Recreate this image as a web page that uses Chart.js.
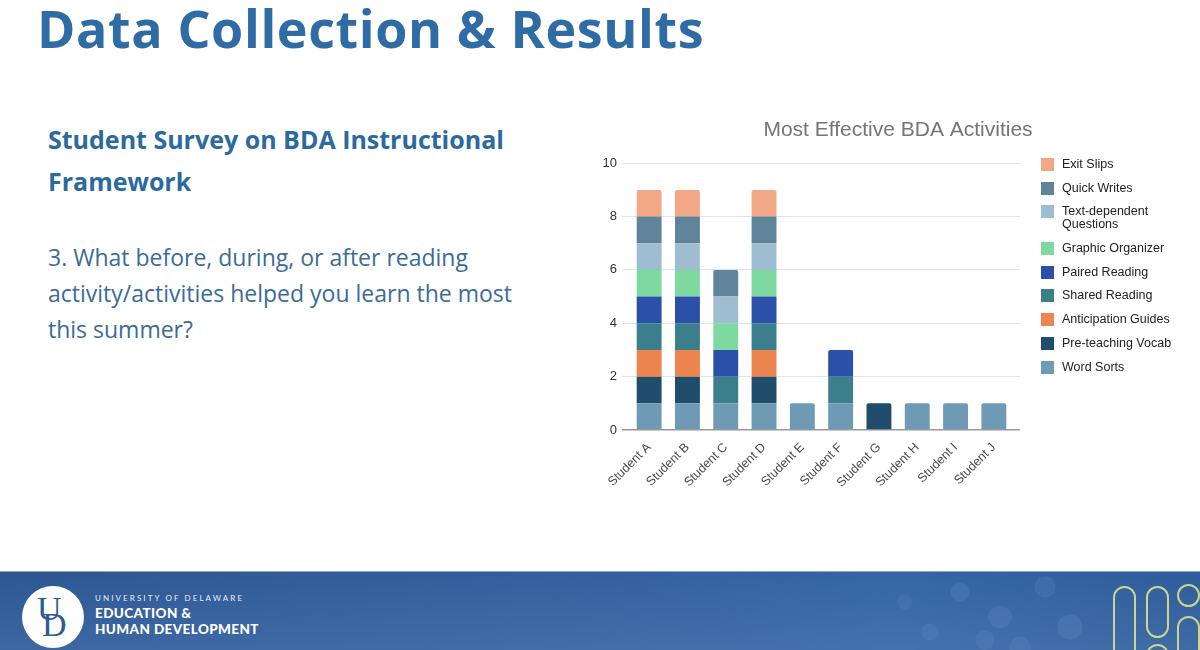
<!DOCTYPE html>
<html lang="en">
<head>
  <meta charset="UTF-8" />
  <title>Data Collection &amp; Results</title>
  <script src="https://cdn.jsdelivr.net/npm/chart.js"></script>
  <style>
    html, body { margin: 0; padding: 0; }
    body { width: 1200px; height: 650px; position: relative; overflow: hidden; background: #fff; font-family: "Open Sans", sans-serif; }
    .slide-title { position: absolute; left: 37px; top: -8px; margin: 0; font-size: 52px; letter-spacing: 0.6px; font-weight: 700; color: #2f6ba5; white-space: nowrap; }
    .subhead { position: absolute; left: 48px; top: 118px; margin: 0; font-size: 25px; font-weight: 700; color: #2b6a9f; line-height: 42px; }
    .question { position: absolute; left: 48px; top: 239px; margin: 0; font-size: 23px; color: #3b6c97; line-height: 36px; }
    #chartBox { position: absolute; left: 590px; top: 110px; width: 610px; height: 410px; }
    #legend { position: absolute; left: 1041px; top: 158px; margin: 0; padding: 0; list-style: none; font-family: "Liberation Sans", Arial, sans-serif; font-size: 12.5px; color: #222; }
    #legend li { display: flex; align-items: flex-start; line-height: 13px; margin-bottom: 10.7px; }
    #legend .sw { width: 13px; height: 13px; flex: none; margin-right: 8px; }
    #legend .tx { max-width: 122px; }
    .footer { position: absolute; left: 0; top: 571px; width: 1200px; height: 79px; border-top: 1px solid #8fa6c4;
      background:
        radial-gradient(circle at 960px 20px, rgba(120,160,215,.18) 0 9px, transparent 10px),
        radial-gradient(circle at 1000px 45px, rgba(120,160,215,.18) 0 11px, transparent 12px),
        radial-gradient(circle at 1045px 15px, rgba(120,160,215,.16) 0 10px, transparent 11px),
        radial-gradient(circle at 1070px 55px, rgba(120,160,215,.18) 0 12px, transparent 13px),
        radial-gradient(circle at 930px 60px, rgba(120,160,215,.15) 0 8px, transparent 9px),
        radial-gradient(circle at 1020px 75px, rgba(120,160,215,.15) 0 10px, transparent 11px),
        radial-gradient(circle at 905px 30px, rgba(120,160,215,.12) 0 7px, transparent 8px),
        radial-gradient(circle at 985px 68px, rgba(120,160,215,.15) 0 9px, transparent 10px),
        linear-gradient(180deg, rgba(255,255,255,0) 0%, rgba(120,160,210,.22) 100%),
        linear-gradient(90deg, #2c5793 0%, #335f9c 45%, #3565a4 75%, #2f5c9a 100%); }
    .logo { position: absolute; left: 22px; top: 14px; width: 62px; height: 62px; border-radius: 50%; background: #fff; }
    .logo span { position: absolute; font-family: "Liberation Serif", "DejaVu Serif", serif; color: #2e5a92; font-size: 34px; line-height: 34px; }
    .logo .u { left: 15px; top: 6px; }
    .logo .d { left: 20px; top: 22px; }
    .uni { position: absolute; left: 95px; top: 21px; font-family: Lato, sans-serif; font-size: 8px; letter-spacing: 2.1px; color: #e6edf7; }
    .ehd { position: absolute; left: 95px; top: 33px; font-family: Lato, sans-serif; font-weight: 900; font-size: 13.5px; line-height: 16px; letter-spacing: .4px; color: #fff; }
    .deco { position: absolute; border: 2px solid #c9d68f; border-radius: 12px; box-sizing: border-box; }
  </style>
</head>
<body>
  <h1 class="slide-title">Data Collection &amp; Results</h1>
  <p class="subhead">Student Survey on BDA Instructional<br>Framework</p>
  <p class="question">3. What before, during, or after reading<br>activity/activities helped you learn the most<br>this summer?</p>

  <div id="chartBox"><canvas id="bdaChart"></canvas></div>
  <ul id="legend"></ul>

  <div class="footer">
    <div class="logo"><span class="u">U</span><span class="d">D</span></div>
    <div class="uni">UNIVERSITY OF DELAWARE</div>
    <div class="ehd">EDUCATION &amp;<br>HUMAN DEVELOPMENT</div>
    <div class="deco" style="left:1113px; top:14px; width:23px; height:90px;"></div>
    <div class="deco" style="left:1146px; top:14px; width:23px; height:52px;"></div>
    <div class="deco" style="left:1146px; top:72px; width:23px; height:40px;"></div>
    <div class="deco" style="left:1177px; top:12px; width:23px; height:23px; border-radius:50%;"></div>
    <div class="deco" style="left:1177px; top:44px; width:23px; height:60px;"></div>
  </div>

  <script>
    const students = ['Student A', 'Student B', 'Student C', 'Student D', 'Student E',
                      'Student F', 'Student G', 'Student H', 'Student I', 'Student J'];

    // stacking order, bottom to top
    const activities = ['Word Sorts', 'Pre-teaching Vocab', 'Anticipation Guides', 'Shared Reading',
                        'Paired Reading', 'Graphic Organizer', 'Text-dependent Questions',
                        'Quick Writes', 'Exit Slips'];
    const colors = ['#6f9ab6', '#1f4d6b', '#ec8550', '#3c7f8c', '#2a50a8',
                    '#7dd9a0', '#9ebdd0', '#5f8499', '#f2a886'];

    const wordSorts          = [1, 1, 1, 1, 1, 1, 0, 1, 1, 1];
    const preTeachingVocab   = [1, 1, 0, 1, 0, 0, 1, 0, 0, 0];
    const anticipationGuides = [1, 1, 0, 1, 0, 0, 0, 0, 0, 0];
    const sharedReading      = [1, 1, 1, 1, 0, 1, 0, 0, 0, 0];
    const pairedReading      = [1, 1, 1, 1, 0, 1, 0, 0, 0, 0];
    const graphicOrganizer   = [1, 1, 1, 1, 0, 0, 0, 0, 0, 0];
    const textDependentQs    = [1, 1, 1, 1, 0, 0, 0, 0, 0, 0];
    const quickWrites        = [1, 1, 1, 1, 0, 0, 0, 0, 0, 0];
    const exitSlips          = [1, 1, 0, 1, 0, 0, 0, 0, 0, 0];

    const series = [wordSorts, preTeachingVocab, anticipationGuides, sharedReading, pairedReading,
                    graphicOrganizer, textDependentQs, quickWrites, exitSlips];

    const yTicks = [0, 2, 4, 6, 8, 10];

    // round only the top segment of each column
    function topRadius(ctx) {
      const col = ctx.dataIndex;
      for (let s = series.length - 1; s >= 0; s--) {
        if (series[s][col] > 0) return s === ctx.datasetIndex ? { topLeft: 2, topRight: 2 } : 0;
      }
      return 0;
    }

    const gridColor = ctx => (ctx.tick && ctx.tick.value === 0) ? '#9a9a9a' : '#e3e3e3';
    const gridWidth = ctx => (ctx.tick && ctx.tick.value === 0) ? 1.5 : 1;
    const setTicks = scale => { scale.ticks = yTicks.map(v => ({ value: v })); };
    const font = '"Liberation Sans", Arial, sans-serif';

    new Chart(document.getElementById('bdaChart'), {
      type: 'bar',
      data: {
        labels: students,
        datasets: activities.map((name, i) => ({
          label: name,
          data: series[i].map(v => v || null),
          backgroundColor: colors[i],
          borderWidth: 0,
          borderRadius: topRadius,
          borderSkipped: false,
          barPercentage: 0.65,
          categoryPercentage: 1.0,
        })),
      },
      options: {
        responsive: true,
        maintainAspectRatio: false,
        animation: false,
        layout: { padding: { left: 6, right: 0, top: 0, bottom: 30 } },
        plugins: {
          legend: { display: false },
          tooltip: { enabled: false },
          title: {
            display: true,
            text: 'Most Effective BDA Activities',
            color: '#757575',
            font: { family: font, size: 21, weight: 'normal' },
            padding: { top: 8, bottom: 20 },
          },
        },
        scales: {
          x: {
            stacked: true,
            grid: { display: false },
            border: { display: false },
            ticks: {
              minRotation: 45, maxRotation: 45, padding: 2,
              color: '#4a4a4a',
              font: { family: font, size: 12.5 },
            },
            afterFit: s => { s.height = 60; },
          },
          y: {
            stacked: true,
            min: 0, max: 10,
            afterBuildTicks: setTicks,
            border: { display: false },
            grid: { color: gridColor, lineWidth: gridWidth, tickLength: 8 },
            ticks: { padding: 5, color: '#333', font: { family: font, size: 13 } },
            afterFit: s => { s.width = 34; },
          },
          // right-hand spacer: extends the grid lines a little and leaves room for the legend
          y2: {
            position: 'right',
            min: 0, max: 10,
            afterBuildTicks: setTicks,
            border: { display: false },
            grid: { color: gridColor, lineWidth: gridWidth, tickLength: 7, drawOnChartArea: false },
            ticks: { display: false },
            afterFit: s => { s.width = 187; },
          },
        },
      },
    });

    // legend, top entry first
    const legend = document.getElementById('legend');
    activities.slice().reverse().forEach((name, k) => {
      const i = activities.length - 1 - k;
      legend.insertAdjacentHTML('beforeend',
        `<li><span class="sw" style="background:${colors[i]}"></span><span class="tx">${name}</span></li>`);
    });
  </script>
</body>
</html>
